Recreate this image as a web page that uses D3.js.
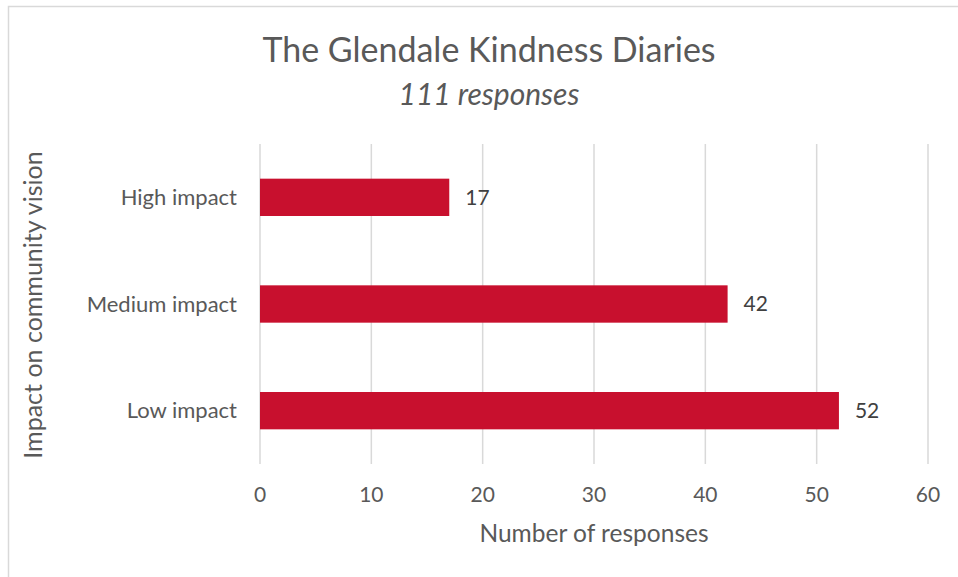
<!DOCTYPE html>
<html><head><meta charset="utf-8">
<script src="https://cdn.jsdelivr.net/npm/d3@7"></script>
<style>body{margin:0;background:#fff}svg{display:block}text{font-family:Lato,"Open Sans",sans-serif}</style>
</head><body>
<svg id="c" width="958" height="577"></svg>
<script>
const categories = ["High impact", "Medium impact", "Low impact"];
const values = [17, 42, 52];
const xTicks = [0, 10, 20, 30, 40, 50, 60];
const title = "The Glendale Kindness Diaries";
const subtitle = "111 responses";
const xTitle = "Number of responses";
const yTitle = "Impact on community vision";

const svg = d3.select("#c");
svg.append("rect").attr("x",8.5).attr("y",6.5).attr("width",1000).attr("height",1000)
  .attr("fill","#fff").attr("stroke","#d9d9d9").attr("stroke-width",1.5);

const x = d3.scaleLinear().domain([0,60]).range([260,928]);
const y = d3.scaleBand().domain(categories).range([144,464]).paddingInner(0.65).paddingOuter(0.325);

const g = svg.append("g");
g.selectAll("line.grid").data(xTicks).join("line")
  .attr("x1",d=>x(d)).attr("x2",d=>x(d)).attr("y1",144).attr("y2",464)
  .attr("stroke","#d9d9d9").attr("stroke-width",1.5);

g.selectAll("rect.bar").data(values).join("rect")
  .attr("x",x(0)).attr("y",(d,i)=>y(categories[i])).attr("width",d=>x(d)-x(0))
  .attr("height",y.bandwidth()).attr("fill","#c8102e");

g.selectAll("text.val").data(values).join("text")
  .attr("x",d=>x(d)+16).attr("y",(d,i)=>y(categories[i])+y.bandwidth()/2)
  .attr("dy","0.35em").attr("font-size",21).attr("fill","#404040").text(d=>d);

g.selectAll("text.cat").data(categories).join("text")
  .attr("x",237).attr("y",d=>y(d)+y.bandwidth()/2).attr("dy","0.35em")
  .attr("text-anchor","end").attr("font-size",22).attr("fill","#595959").text(d=>d);

g.selectAll("text.tick").data(xTicks).join("text")
  .attr("x",d=>x(d)).attr("y",495).attr("dy","0.35em").attr("text-anchor","middle")
  .attr("font-size",21).attr("fill","#595959").text(d=>d);

svg.append("text").attr("x",594).attr("y",533).attr("dy","0.35em").attr("text-anchor","middle")
  .attr("font-size",24.5).attr("fill","#595959").text(xTitle);
svg.append("text").attr("transform","translate(33,305) rotate(-90)").attr("dy","0.35em")
  .attr("text-anchor","middle").attr("font-size",25).attr("fill","#595959").text(yTitle);

svg.append("text").attr("x",489).attr("y",50).attr("dy","0.35em").attr("text-anchor","middle")
  .attr("font-size",34).attr("fill","#595959").text(title);
svg.append("text").attr("x",489).attr("y",94).attr("dy","0.35em").attr("text-anchor","middle")
  .attr("font-size",30).attr("font-style","italic").attr("fill","#595959").text(subtitle);
</script>
</body></html>
